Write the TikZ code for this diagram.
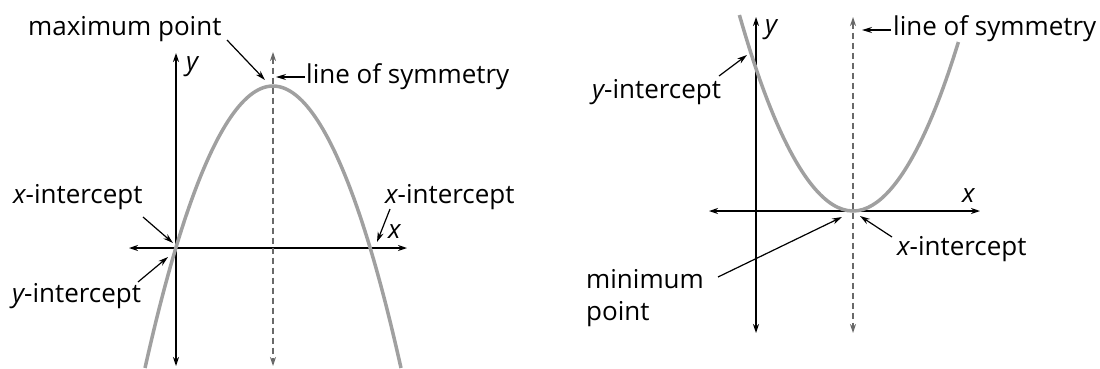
\documentclass[tikz,border=0pt]{standalone}
\usepackage{fontspec}
\setmainfont{Open Sans}
\usetikzlibrary{arrows.meta}
\definecolor{curvegray}{RGB}{160,160,160}
\definecolor{symgray}{RGB}{105,105,105}
\begin{document}
\begin{tikzpicture}[x=1pt,y=-1pt,
  lbl/.style={font=\fontsize{26}{32}\selectfont, inner sep=0pt, anchor=base west},
  axisline/.style={line width=1.3pt, {Stealth[length=9pt,width=6pt]}-{Stealth[length=9pt,width=6pt]}},
  symline/.style={line width=1.2pt, symgray, dash pattern=on 6pt off 4pt, {Stealth[length=9pt,width=6pt]}-{Stealth[length=9pt,width=6pt]}},
  curveline/.style={line width=3.5pt, curvegray},
  callout/.style={line width=1.2pt, -{Stealth[length=10pt,width=6pt]}}]
\useasboundingbox (0,0) rectangle (1100,368);

% ---------- left graph ----------
\coordinate (Lyt) at (176,53);
\coordinate (Lyb) at (176,366);
\coordinate (Lxl) at (129,248);
\coordinate (Lxr) at (407,248);
\coordinate (Lst) at (273,52);
\coordinate (Lsb) at (273,366);
\coordinate (Lc1) at (145,368);
\coordinate (Lv) at (273,86);
\coordinate (Lc2) at (401,368);

\draw[axisline] (Lyt) -- (Lyb);
\draw[axisline] (Lxl) -- (Lxr);
\draw[curveline] (Lc1) parabola bend (Lv) (Lc2);
\draw[symline] (Lst) -- (Lsb);

\node[lbl] (Lmax) at (28,35) {maximum point};
\node[lbl] (Lsym) at (306,83) {line of symmetry};
\node[lbl] (Ly) at (186,70) {\itshape y};
\node[lbl] (Lxi1) at (13,203) {{\itshape x}-intercept};
\node[lbl] (Lyi) at (12,302) {{\itshape y}-intercept};
\node[lbl] (Lxi2) at (385,203) {{\itshape x}-intercept};
\node[lbl] (Lx) at (388,238) {\itshape x};

\coordinate (Lmaxs) at (227,40);  \coordinate (Lmaxe) at (265,80);
\coordinate (Lsyms) at (305,77);  \coordinate (Lsyme) at (276,77);
\coordinate (Lxi1s) at (143,217); \coordinate (Lxi1e) at (173,243);
\coordinate (Lyis) at (138,282);  \coordinate (Lyie) at (168,257);
\coordinate (Lxi2s) at (390,209); \coordinate (Lxi2e) at (377,242);
\draw[callout] (Lmaxs) -- (Lmaxe);
\draw[callout] (Lsyms) -- (Lsyme);
\draw[callout] (Lxi1s) -- (Lxi1e);
\draw[callout] (Lyis) -- (Lyie);
\draw[callout] (Lxi2s) -- (Lxi2e);

% ---------- right graph ----------
\coordinate (Ryt) at (756,17);
\coordinate (Ryb) at (756,333);
\coordinate (Rxl) at (709,211);
\coordinate (Rxr) at (980,211);
\coordinate (Rst) at (853,17);
\coordinate (Rsb) at (853,333);
\coordinate (Rc1) at (739.4,15);
\coordinate (Rv) at (853,211);
\coordinate (Rc2) at (958.4,42);

\draw[axisline] (Ryt) -- (Ryb);
\draw[axisline] (Rxl) -- (Rxr);
\draw[curveline] (Rc1) parabola bend (Rv) (Rc2);
\draw[symline] (Rst) -- (Rsb);

\node[lbl] (Ry) at (765,33) {\itshape y};
\node[lbl] (Rsym) at (893,35) {line of symmetry};
\node[lbl] (Ryi) at (592,98) {{\itshape y}-intercept};
\node[lbl] (Rx) at (962,202) {\itshape x};
\node[lbl] (Rxi) at (897,255) {{\itshape x}-intercept};
\node[lbl] (Rmin) at (586,288) {\begin{tabular}[t]{@{}l@{}}minimum\\point\end{tabular}};

\coordinate (Rsyms) at (891,30);  \coordinate (Rsyme) at (862,30);
\coordinate (Ryis) at (719,76);   \coordinate (Ryie) at (747,55);
\coordinate (Rxis) at (892,237);  \coordinate (Rxie) at (860,216);
\coordinate (Rmins) at (718,277); \coordinate (Rmine) at (842,217);
\draw[callout] (Rsyms) -- (Rsyme);
\draw[callout] (Ryis) -- (Ryie);
\draw[callout] (Rxis) -- (Rxie);
\draw[callout] (Rmins) -- (Rmine);
\end{tikzpicture}
\end{document}
